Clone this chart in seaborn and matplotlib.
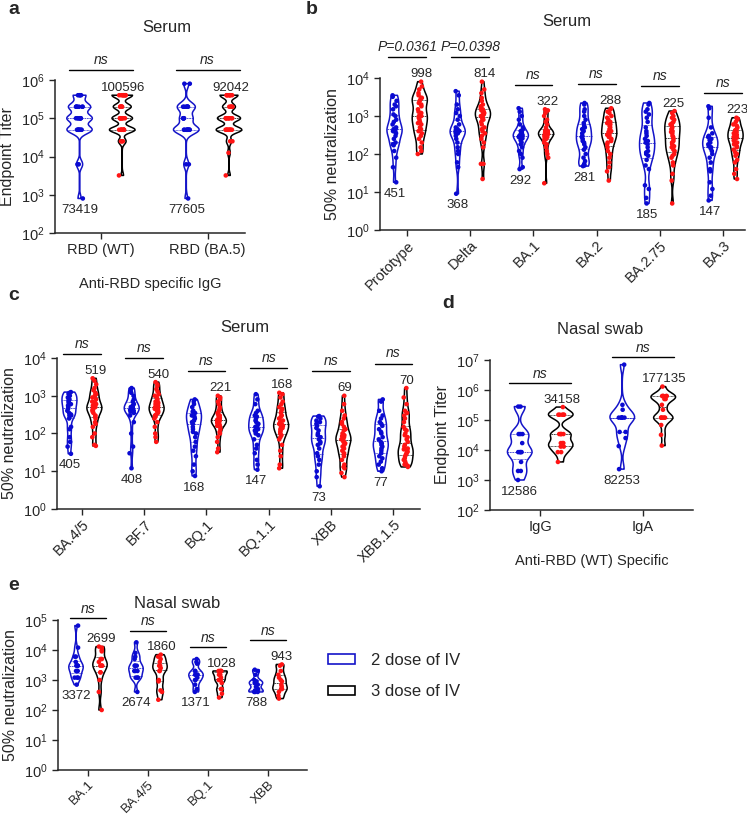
import numpy as np
import pandas as pd
import matplotlib
matplotlib.use("Agg")
import matplotlib.pyplot as plt
import seaborn as sns
from matplotlib.patches import Patch
from matplotlib.ticker import LogLocator, NullLocator

sns.set_style("ticks")
plt.rcParams['font.family'] = ['Liberation Sans', 'DejaVu Sans']
plt.rcParams['axes.linewidth'] = 1.1
np.random.seed(3)

doses = ['2 dose of IV', '3 dose of IV']
line_colors = {'2 dose of IV': '#1414c8', '3 dose of IV': 'black'}
dot_colors = {'2 dose of IV': '#0a0ad2', '3 dose of IV': '#ff1414'}

# ---- panel a : serum anti-RBD IgG endpoint titer ----
a_cats = ['RBD (WT)', 'RBD (BA.5)']
a_blue = [
    [400000, 400000, 400000, 400000, 200000, 200000, 200000, 200000, 200000, 200000, 200000,
     100000, 100000, 100000, 100000, 100000, 100000, 100000, 100000,
     50000, 50000, 50000, 50000, 50000, 50000, 50000, 50000, 6250, 6250, 800],
    [800000, 800000, 200000, 200000, 200000, 200000, 200000, 200000, 200000,
     100000, 100000, 100000, 100000, 100000,
     50000, 50000, 50000, 50000, 50000, 50000, 50000, 50000, 50000, 50000, 6250, 6250, 800],
]
a_red = [
    [400000, 400000, 400000, 400000, 400000, 400000, 400000, 400000,
     200000, 200000, 200000, 200000, 200000, 200000, 200000,
     100000, 100000, 100000, 100000, 100000, 100000, 100000, 100000,
     50000, 50000, 50000, 50000, 50000, 50000, 50000, 50000, 50000, 50000,
     25000, 25000, 25000, 3200],
    [400000, 400000, 400000, 400000, 400000, 400000, 400000,
     200000, 200000, 200000, 200000, 200000,
     100000, 100000, 100000, 100000, 100000, 100000, 100000, 100000, 100000,
     50000, 50000, 50000, 50000, 50000, 50000, 50000, 50000, 50000, 50000,
     25000, 25000, 12500, 3200],
]
a_gmt_blue = ['73419', '77605']
a_gmt_red = ['100596', '92042']
a_tests = ['ns', 'ns']

# ---- panel b : serum neutralization ----
b_cats = ['Prototype', 'Delta', 'BA.1', 'BA.2', 'BA.2.75', 'BA.3']
b_blue = [
    [3500, 3200, 2500, 2000, 1800, 1500, 1100, 1000, 800, 700, 600, 500, 450, 450, 400, 380,
     350, 300, 250, 200, 180, 170, 120, 80, 45, 18],
    [4500, 3500, 2000, 1500, 1200, 1000, 800, 600, 500, 450, 420, 400, 400, 380, 350, 350,
     300, 250, 200, 150, 120, 100, 60, 45, 9],
    [1600, 1300, 1000, 800, 600, 500, 450, 400, 380, 350, 330, 320, 300, 300, 280, 260, 250,
     230, 200, 180, 150, 120, 100, 80, 45, 40],
    [2200, 2000, 1500, 1300, 1000, 800, 650, 550, 500, 450, 400, 350, 300, 280, 250, 220, 200,
     180, 150, 130, 100, 80, 65, 55, 50, 48],
    [2200, 2000, 1500, 1300, 1100, 900, 700, 500, 400, 350, 300, 250, 220, 200, 180, 150, 120,
     110, 100, 90, 70, 50, 40, 15, 12, 7, 5],
    [1800, 1600, 900, 500, 350, 300, 280, 250, 230, 200, 180, 160, 150, 140, 120, 100, 80, 60,
     40, 35, 18, 12, 8, 6],
]
b_red = [
    [8000, 6000, 5000, 4000, 3500, 3000, 3000, 2800, 2500, 2200, 2000, 1800, 1500, 1300, 1200,
     1000, 1000, 900, 800, 700, 650, 600, 500, 450, 400, 350, 300, 250, 200, 150, 120, 100],
    [8000, 5000, 4000, 3000, 2500, 2000, 1800, 1600, 1500, 1400, 1300, 1200, 1200, 1100, 1000,
     1000, 900, 850, 800, 700, 600, 500, 450, 400, 350, 300, 250, 200, 150, 55, 55, 22],
    [1500, 1400, 1200, 1000, 800, 700, 600, 500, 450, 420, 400, 400, 380, 370, 350, 350, 340,
     330, 320, 300, 300, 280, 260, 250, 230, 200, 180, 150, 120, 100, 80, 17],
    [1600, 1500, 1300, 1200, 1000, 900, 800, 700, 650, 600, 550, 500, 450, 400, 380, 350, 320,
     300, 280, 250, 220, 200, 180, 150, 120, 100, 80, 60, 45, 35, 20],
    [1350, 1200, 1000, 900, 800, 700, 650, 600, 550, 500, 450, 400, 380, 350, 300, 280, 250,
     220, 200, 180, 160, 150, 130, 120, 100, 90, 80, 60, 50, 30, 20, 5],
    [900, 850, 800, 700, 600, 550, 500, 450, 420, 400, 380, 350, 320, 300, 280, 270, 250, 230,
     220, 200, 180, 160, 150, 130, 110, 100, 90, 70, 60, 40, 30, 22],
]
b_gmt_blue = ['451', '368', '292', '281', '185', '147']
b_gmt_red = ['998', '814', '322', '288', '225', '223']
b_tests = ['P=0.0361', 'P=0.0398', 'ns', 'ns', 'ns', 'ns']

# ---- panel c : serum neutralization, newer variants ----
c_cats = ['BA.4/5', 'BF.7', 'BQ.1', 'BQ.1.1', 'XBB', 'XBB.1.5']
c_blue = [
    [1250, 1200, 1150, 1100, 1000, 900, 800, 750, 700, 650, 600, 550, 500, 450, 400, 350, 320,
     300, 300, 250, 150, 130, 80, 60, 45, 29],
    [1600, 1500, 1300, 1200, 1000, 800, 700, 600, 550, 500, 500, 500, 480, 450, 450, 420, 400,
     380, 350, 300, 200, 100, 45, 30, 12],
    [800, 700, 600, 500, 400, 380, 350, 300, 280, 250, 220, 200, 180, 150, 130, 110, 100, 80,
     60, 45, 35, 25, 15, 10, 7.5],
    [1100, 800, 600, 400, 350, 300, 280, 250, 220, 200, 180, 160, 150, 130, 120, 110, 100, 90,
     70, 50, 40, 30, 20, 15, 11],
    [290, 280, 250, 220, 200, 180, 160, 140, 120, 100, 90, 80, 70, 60, 55, 50, 40, 30, 25, 20,
     15, 10, 7, 4],
    [800, 700, 400, 300, 250, 200, 180, 160, 130, 110, 100, 80, 70, 60, 55, 50, 45, 40, 35, 30,
     25, 22, 18, 15, 12, 10],
]
c_red = [
    [2900, 2500, 2000, 1600, 1400, 1200, 1100, 1000, 900, 800, 700, 650, 600, 550, 520, 500,
     480, 450, 420, 400, 380, 350, 300, 280, 250, 200, 180, 150, 100, 80, 50, 47],
    [2300, 2000, 1800, 1500, 1300, 1100, 1000, 900, 800, 750, 700, 650, 600, 550, 500, 500,
     480, 450, 420, 400, 380, 350, 320, 300, 280, 250, 200, 150, 100, 80, 60],
    [1000, 900, 800, 700, 600, 500, 450, 400, 350, 320, 300, 280, 260, 250, 240, 230, 220, 210,
     200, 200, 190, 180, 170, 160, 150, 130, 110, 100, 80, 60, 40, 32],
    [1200, 1100, 900, 700, 600, 500, 450, 400, 350, 300, 280, 250, 220, 200, 190, 180, 170,
     160, 150, 140, 130, 120, 110, 100, 90, 80, 70, 50, 35, 25, 15, 12],
    [1000, 600, 400, 300, 250, 200, 180, 150, 130, 120, 100, 90, 85, 80, 75, 70, 65, 60, 55, 50,
     45, 40, 35, 30, 28, 25, 20, 15, 13, 12, 9, 7],
    [1600, 900, 600, 400, 350, 300, 250, 200, 150, 130, 120, 100, 90, 80, 70, 60, 50, 45, 40,
     38, 35, 33, 30, 28, 25, 22, 20, 18, 16, 15, 14, 13],
]
c_gmt_blue = ['405', '408', '168', '147', '73', '77']
c_gmt_red = ['519', '540', '221', '168', '69', '70']
c_tests = ['ns'] * 6

# ---- panel d : nasal swab endpoint titer ----
d_cats = ['IgG', 'IgA']
d_blue = [
    [280000, 280000, 34000, 34000, 34000, 17000, 8500, 8500, 8500, 8500, 4000, 2000, 2000, 1000],
    [7000000, 320000, 220000, 120000, 120000, 120000, 120000, 120000, 120000, 40000, 40000,
     25000, 13500, 2300],
]
d_red = [
    [270000, 150000, 150000, 150000, 150000, 150000, 34000, 34000, 34000, 34000, 17000, 17000,
     17000, 13000, 13000, 8500, 8500, 4000],
    [1300000, 630000, 630000, 630000, 630000, 630000, 500000, 500000, 320000, 220000, 120000,
     120000, 120000, 120000, 120000, 68000, 32000, 14000],
]
d_gmt_blue = ['12586', '82253']
d_gmt_red = ['34158', '177135']
d_tests = ['ns', 'ns']

# ---- panel e : nasal swab neutralization ----
e_cats = ['BA.1', 'BA.4/5', 'BQ.1', 'XBB']
e_blue = [
    [65000, 12000, 6000, 6000, 4000, 3000, 3000, 3000, 3000, 2000, 2000, 2000, 1200, 1200, 1200, 700],
    [18000, 8000, 6000, 5000, 3000, 3000, 3000, 2000, 2000, 2000, 1200, 1200, 1200, 400],
    [5000, 4000, 3500, 2000, 2000, 1500, 1500, 1500, 1200, 1000, 1000, 700, 500, 400],
    [2200, 2000, 1500, 1000, 900, 800, 800, 700, 600, 500, 450, 400, 400, 400],
]
e_red = [
    [13000, 12000, 10000, 9000, 5000, 5000, 4000, 3000, 3000, 3000, 3000, 1800, 1800, 1000, 400, 100],
    [7000, 6000, 5000, 4000, 3000, 3000, 2500, 2000, 2000, 1000, 900, 450, 400, 220],
    [2000, 2000, 2000, 2000, 1500, 1500, 1200, 1000, 1000, 800, 500, 500, 350, 260],
    [3300, 3000, 2000, 1500, 1200, 1000, 900, 700, 600, 500, 500, 400, 300, 240],
]
e_gmt_blue = ['3372', '2674', '1371', '788']
e_gmt_red = ['2699', '1860', '1028', '943']
e_tests = ['ns'] * 4


W, H = 747, 815
fig = plt.figure(figsize=(W / 100, H / 100), dpi=100)


def px_axes(x0, y0, x1, y1):
    # axes from pixel box (top-left origin)
    return fig.add_axes([x0 / W, 1 - y1 / H, (x1 - x0) / W, (y1 - y0) / H])


def violin_panel(ax, cats, blue, red, gmt_blue, gmt_red, tests, ylim, xlim,
                 ylabel, rotate=False, bar_up=0.65, bw=0.5, xtick_size=10.5):
    rows = []
    for c, b, r in zip(cats, blue, red):
        rows += [(c, doses[0], v) for v in b]
        rows += [(c, doses[1], v) for v in r]
    df = pd.DataFrame(rows, columns=['variant', 'dose', 'value'])

    sns.violinplot(data=df, x='variant', y='value', hue='dose', order=cats, hue_order=doses,
                   palette=line_colors, fill=False, cut=0, bw_adjust=bw, density_norm='width',
                   width=0.8, gap=0.4, inner='quart', inner_kws=dict(linewidth=0.5),
                   linewidth=1.1, log_scale=True, legend=False, ax=ax)
    sns.stripplot(data=df, x='variant', y='value', hue='dose', order=cats, hue_order=doses,
                  palette=dot_colors, dodge=True, jitter=0.07, size=3.3, linewidth=0,
                  log_scale=True, legend=False, ax=ax)

    for i in range(len(cats)):
        bmin, bmax, rmax = min(blue[i]), max(blue[i]), max(red[i])
        ax.annotate(gmt_blue[i], (i - 0.2, bmin), xytext=(0, -4), textcoords='offset points',
                    ha='center', va='top', fontsize=9.5)
        ax.annotate(gmt_red[i], (i + 0.2, rmax), xytext=(1, 1), textcoords='offset points',
                    ha='center', va='bottom', fontsize=9.5)
        ybar = max(rmax * 10 ** bar_up, bmax * 10 ** 0.25)
        ax.plot([i - 0.3, i + 0.3], [ybar, ybar], color='black', lw=1, clip_on=False)
        ax.text(i, ybar * 10 ** 0.08, tests[i], style='italic', ha='center', va='bottom',
                fontsize=10)

    ax.set_ylim(*ylim)
    ax.set_xlim(*xlim)
    ax.yaxis.set_major_locator(LogLocator(base=10, numticks=12))
    ax.yaxis.set_minor_locator(NullLocator())
    ax.tick_params(labelsize=10.5, length=4, width=1)
    ax.tick_params(axis='x', labelsize=xtick_size)
    ax.set_xlabel('')
    ax.set_ylabel(ylabel, fontsize=11.5)
    sns.despine(ax=ax)
    if rotate:
        ax.tick_params(axis='x', pad=2)
        plt.setp(ax.get_xticklabels(), rotation=45, ha='right', rotation_mode='anchor')


ax_a = px_axes(55, 80, 245, 233)
violin_panel(ax_a, a_cats, a_blue, a_red, a_gmt_blue, a_gmt_red, a_tests,
             (1e2, 1e6), (-0.43, 1.35), 'Endpoint Titer', bw=0.35)
ax_a.set_xlabel('Anti-RBD specific IgG', fontsize=10.5, labelpad=14)

ax_b = px_axes(380, 78, 745, 230)
violin_panel(ax_b, b_cats, b_blue, b_red, b_gmt_blue, b_gmt_red, b_tests,
             (1e0, 1e4), (-0.43, 5.35), '50% neutralization', rotate=True)

ax_c = px_axes(57, 358, 420, 509)
violin_panel(ax_c, c_cats, c_blue, c_red, c_gmt_blue, c_gmt_red, c_tests,
             (1e0, 1e4), (-0.40, 5.43), '50% neutralization', rotate=True)

ax_d = px_axes(490, 360, 693, 510)
violin_panel(ax_d, d_cats, d_blue, d_red, d_gmt_blue, d_gmt_red, d_tests,
             (1e2, 1e7), (-0.49, 1.49), 'Endpoint Titer', bar_up=0.8, bw=0.45)
ax_d.set_xlabel('Anti-RBD (WT) Specific', fontsize=10.5, labelpad=14)

ax_e = px_axes(58, 620, 307, 770)
violin_panel(ax_e, e_cats, e_blue, e_red, e_gmt_blue, e_gmt_red, e_tests,
             (1e0, 1e5), (-0.5, 3.65), '50% neutralization', rotate=True, bar_up=0.8,
             xtick_size=9.5)

# titles and panel letters
for x, y, t in [(167, 27, 'Serum'), (567, 22, 'Serum'), (245, 328, 'Serum'),
                (600, 329, 'Nasal swab'), (177, 603, 'Nasal swab')]:
    fig.text(x / W, 1 - y / H, t, ha='center', va='center', fontsize=12)
for x, y, t in [(8, 10, 'a'), (306, 10, 'b'), (8, 295, 'c'), (442, 303, 'd'), (8, 585, 'e')]:
    fig.text(x / W, 1 - y / H, t, ha='left', va='center', fontsize=14, fontweight='bold')

handles = [Patch(facecolor='white', edgecolor=line_colors[d], linewidth=1.2, label=d) for d in doses]
fig.legend(handles=handles, loc='center left', bbox_to_anchor=(328 / W, 1 - 676 / H),
           frameon=False, fontsize=12, handlelength=1.6, handleheight=0.5,
           handletextpad=1.0, labelspacing=1.0, borderpad=0, borderaxespad=0)

fig.savefig('out.png', dpi=100)
